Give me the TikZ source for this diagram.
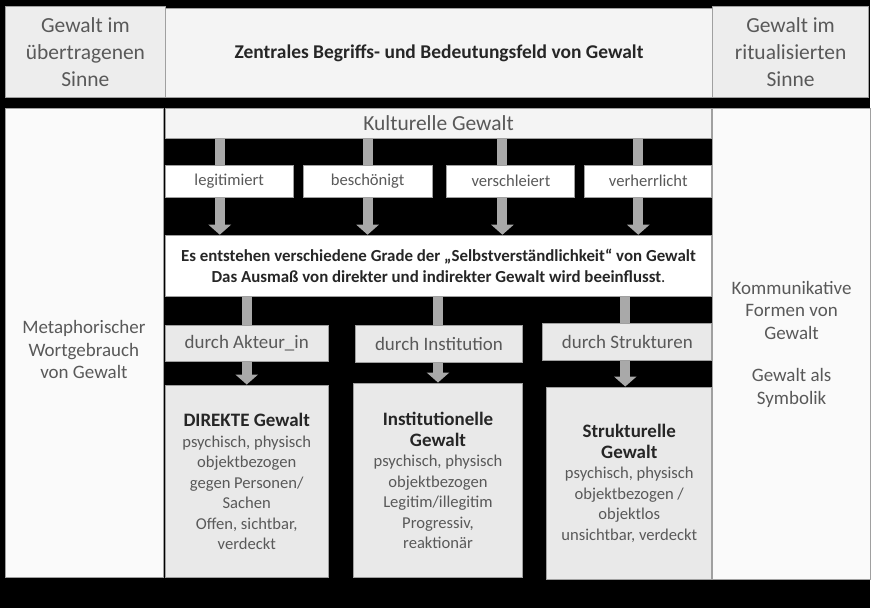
\documentclass[tikz,border=0pt]{standalone}
\usepackage{fontspec}
\setmainfont{Carlito}
\usetikzlibrary{arrows.meta}

\definecolor{rahmen}{HTML}{A0A0A0}
\definecolor{pfeilgrau}{HTML}{A9A9A9}
\definecolor{schrift}{HTML}{595959}
\definecolor{dunkel}{HTML}{262626}
\definecolor{hellgrau}{HTML}{E9E9E9}
\definecolor{kopfgrau}{HTML}{EDEDED}
\definecolor{weissgrau}{HTML}{F4F4F4}
\definecolor{spalte}{HTML}{FAFAFA}

\newcommand{\kopf}[1]{{\color{dunkel}\bfseries\fontsize{19}{22}\selectfont #1}}

\begin{document}
\begin{tikzpicture}
	[x=1pt,y=-1pt,
	feld/.style={draw=rahmen,line width=1pt,anchor=north west,inner sep=0pt,align=center,text=schrift},
	gross/.style={font=\fontsize{21.5}{27}\selectfont},
	mittel/.style={font=\fontsize{19}{22.5}\selectfont},
	klein/.style={font=\fontsize{16.6}{20.5}\selectfont},
	pfeil/.style={draw=pfeilgrau,line width=10pt,-{Triangle[width=22pt,length=10pt]}}]
\fill[black] (0,0) rectangle (871,609);
% obere Reihe
\node[feld,gross,fill=kopfgrau,minimum width=160pt,minimum height=91pt] (uebertragen) at (5,6) {Gewalt im\\übertragenen\\Sinne};
\node[feld,fill=weissgrau,text=dunkel,font=\bfseries\fontsize{19.5}{24}\selectfont,minimum width=548pt,minimum height=89pt] (zentral) at (165,8) {Zentrales Begriffs- und Bedeutungsfeld von Gewalt};
\node[feld,gross,fill=kopfgrau,minimum width=156pt,minimum height=91pt] (ritualisiert) at (713,6) {Gewalt im\\ritualisierten\\Sinne};
% Seitenspalten
\node[feld,fill=spalte,minimum width=158pt,minimum height=470pt] (metapher) at (5,108) {};
\node[mittel,text=schrift,align=center] (metatext) at (84,350) {Metaphorischer\\Wortgebrauch\\von Gewalt};
\node[feld,mittel,fill=spalte,minimum width=158pt,minimum height=472pt] (kommunikativ) at (713,108) {Kommunikative\\Formen von\\Gewalt\\[20pt]Gewalt als\\Symbolik};
% Mitte
\node[feld,gross,fill=weissgrau,minimum width=547pt,minimum height=30pt] (kultur) at (165,108) {Kulturelle Gewalt};
\node[feld,fill=white,text=dunkel,font=\bfseries\fontsize{16.9}{21}\selectfont,minimum width=547pt,minimum height=61pt] (entstehen) at (165,235) {Es entstehen verschiedene Grade der „Selbstverständlichkeit“ von Gewalt\\Das Ausmaß von direkter und indirekter Gewalt wird beeinflusst{\mdseries.}};
\foreach \dx in {55,203,338,474}
	\draw[pfeil] ([xshift=\dx pt]kultur.south west) -- ([xshift=\dx pt]entstehen.north west);
\node[feld,klein,fill=white,minimum width=128pt,minimum height=32pt] (legitimiert) at (165,165) {legitimiert};
\node[feld,klein,fill=white,minimum width=129pt,minimum height=32pt] (beschoenigt) at (303,165) {beschönigt};
\node[feld,klein,fill=white,minimum width=128pt,minimum height=32pt] (verschleiert) at (447,165) {verschleiert};
\node[feld,klein,fill=white,minimum width=127pt,minimum height=32pt] (verherrlicht) at (585,165) {verherrlicht};
% untere Kaesten
\node[feld,klein,fill=hellgrau,minimum width=163pt,minimum height=193pt] (direkt) at (165,385) {\kopf{DIREKTE Gewalt}\\psychisch, physisch\\objektbezogen\\gegen Personen/\\Sachen\\Offen, sichtbar,\\verdeckt};
\node[feld,klein,fill=hellgrau,minimum width=170pt,minimum height=195pt] (institutionell) at (353,383) {\kopf{Institutionelle}\\\kopf{Gewalt}\\psychisch, physisch\\objektbezogen\\Legitim/illegitim\\Progressiv,\\reaktionär};
\node[feld,klein,fill=hellgrau,minimum width=165pt,minimum height=193pt] (strukturell) at (547,387) {\kopf{Strukturelle}\\\kopf{Gewalt}\\psychisch, physisch\\objektbezogen /\\objektlos\\unsichtbar, verdeckt};
\draw[pfeil] (entstehen.south -| direkt.north) -- (direkt.north);
\draw[pfeil] (entstehen.south -| institutionell.north) -- (institutionell.north);
\draw[pfeil] ([xshift=-4pt]entstehen.south -| strukturell.north) -- ([xshift=-4pt]strukturell.north);
\node[feld,mittel,fill=hellgrau,minimum width=163pt,minimum height=36pt] (akteur) at (165,325) {durch Akteur\_in};
\node[feld,mittel,fill=hellgrau,minimum width=168pt,minimum height=37pt] (institution) at (355,325) {durch Institution};
\node[feld,mittel,fill=hellgrau,minimum width=169pt,minimum height=37pt] (strukturen) at (543,323) {durch Strukturen};
\end{tikzpicture}
\end{document}
